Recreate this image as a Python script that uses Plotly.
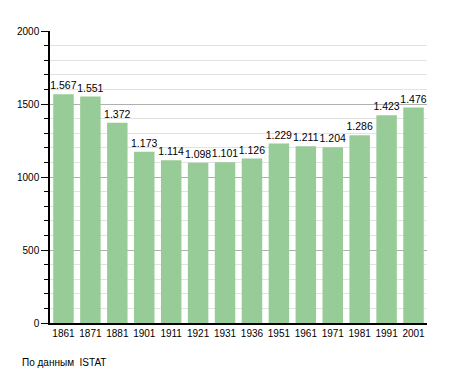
import plotly.graph_objects as go

years = ["1861", "1871", "1881", "1901", "1911", "1921", "1931", "1936",
         "1951", "1961", "1971", "1981", "1991", "2001"]
population = [1567, 1551, 1372, 1173, 1114, 1098, 1101, 1126,
              1229, 1211, 1204, 1286, 1423, 1476]
labels = ["1.567", "1.551", "1.372", "1.173", "1.114", "1.098", "1.101", "1.126",
          "1.229", "1.211", "1.204", "1.286", "1.423", "1.476"]
y_ticks = [0, 500, 1000, 1500, 2000]
source_note = "По данным  ISTAT"

fig = go.Figure(go.Bar(
    x=years, y=population, text=labels,
    textposition="outside", cliponaxis=False, constraintext="none",
    textfont=dict(size=10.5, color="black"),
    marker=dict(color="#97cb97", line=dict(width=0)),
))

# page body has an 8px default margin, so the figure is sized/offset to compensate
fig.update_layout(
    width=447, height=365,
    margin=dict(l=42, r=28, t=23, b=50, autoexpand=False),
    paper_bgcolor="white", plot_bgcolor="white",
    font=dict(family="Liberation Sans, Arial, sans-serif", size=10, color="black"),
    bargap=0.24,
    showlegend=False,
    annotations=[dict(text=source_note, xref="paper", yref="paper",
                      x=-0.08, y=-0.134, xanchor="left", yanchor="middle",
                      showarrow=False, font=dict(size=10, color="black"))],
)
fig.update_yaxes(
    range=[0, 2000], tickvals=y_ticks, ticktext=[str(v) for v in y_ticks],
    showgrid=True, gridcolor="#b0b0b0", gridwidth=1,
    ticks="outside", ticklen=7, tickcolor="black",
    showline=True, linecolor="black", linewidth=1.5,
    minor=dict(dtick=100, showgrid=True, gridcolor="#e2e2e2",
               ticks="outside", ticklen=4, tickcolor="black"),
    zeroline=False, tickfont=dict(size=10), fixedrange=True, automargin=False,
)
fig.update_xaxes(
    showline=True, linecolor="black", linewidth=1.5,
    ticks="", tickfont=dict(size=10), showgrid=False, automargin=False,
)

fig.write_html("out.html")
